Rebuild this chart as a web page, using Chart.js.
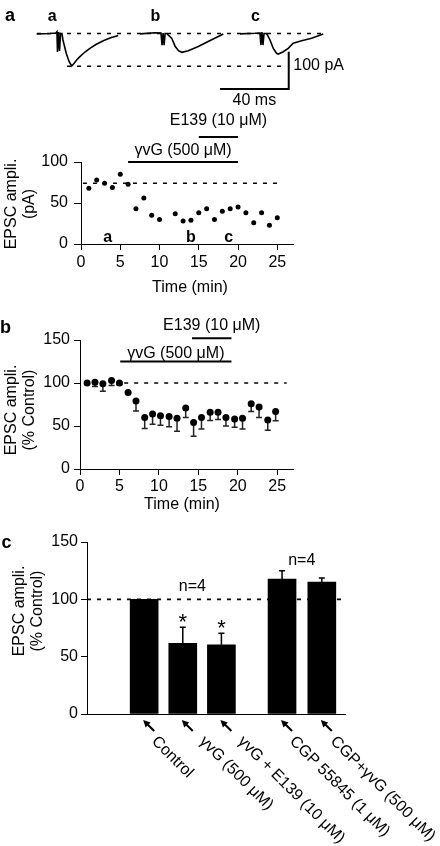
<!DOCTYPE html>
<html>
<head>
<meta charset="utf-8">
<script src="https://cdn.jsdelivr.net/npm/chart.js@4.4.1/dist/chart.umd.min.js"></script>
<style>
  body { margin: 0; background: #fff; }
  #wrap { position: relative; width: 440px; height: 846px; overflow: hidden; }
  canvas { position: absolute; left: 0; }
</style>
</head>
<body>
<div id="wrap">
  <canvas id="tr" width="440" height="110" style="top:0px"></canvas>
  <canvas id="ca" width="440" height="210" style="top:100px"></canvas>
  <canvas id="cb" width="440" height="215" style="top:305px"></canvas>
  <canvas id="cc" width="440" height="326" style="top:520px"></canvas>
</div>
<script>
// tick values
var timeTicks = [0, 5, 10, 15, 20, 25];
var ampTicks = [0, 50, 100];
var pctTicks = [0, 50, 100, 150];

// example sweeps (ms, pA) taken at a, b, c
var traceNames = ['a', 'b', 'c'];
var traceTa = [0, 7.7, 11.2, 11.8, 12.1, 12.7, 13.3, 13.9, 14.7, 15.3, 17.2, 18.9, 20.4, 21.7, 23.5, 25.2, 28.1, 31, 34.5, 38.8, 42.7, 47.5];
var traceIa = [-1, 0, 1.3, 4.8, -49.6, 4, -47, 0, 0, -17.4, -53, -75.6, -87.1, -80.4, -69.7, -62.2, -49.6, -39.7, -29.5, -19.3, -12, -5.4];
var traceTb = [0, 8.7, 12.2, 12.8, 13.4, 14.0, 14.6, 15.5, 18.5, 20.5, 22.4, 24.3, 28.1, 33.9, 41.7, 48.5];
var traceIb = [-1, 2, 1.3, -31, 1, -31, 0, 0, -13, -35, -46, -50.4, -46, -35, -17, -1.3];
var traceTc = [0, 8.7, 11.6, 12.2, 12.8, 13.4, 14.0, 15.5, 17.5, 19.4, 21.3, 22.3, 25.2, 28.1, 31, 35.9, 41.7, 48.5];
var traceIc = [-1, 0.5, 1.3, -31, 4, -31, 0, 0, -17.4, -40, -53, -55, -49, -40, -26.3, -19.3, -13, -1.3];

// a: one cell, EPSC amplitude (pA)
var timeA = [1, 2, 3, 4, 5, 6, 7, 8, 9, 10, 12, 13, 14, 15, 16, 17, 18, 19, 20, 21, 22, 23, 24, 25];
var ampA = [68, 78, 74, 69, 85, 73, 43, 56, 35, 30, 37, 28, 29, 38, 43, 30, 40, 43, 45, 38, 26, 38, 23, 32];
var baseA = 74;
var sampleTimes = [3.4, 14, 18.8];
var gvgA = [6, 20];
var e139A = [15, 20];

// b: pooled, % of control (mean, SEM)
var timeB = [0.9, 1.9, 2.9, 4.0, 5.0, 6.1, 7.1, 8.2, 9.2, 10.2, 11.3, 12.3, 13.4, 14.4, 15.4, 16.5, 17.5, 18.5, 19.6, 20.6, 21.7, 22.7, 23.8, 24.8];
var meanB = [100, 101, 99, 103, 100, 89, 79, 60, 64, 62, 61, 59, 71, 54, 60, 66, 66, 60, 58, 59, 76, 72, 57, 67];
var semB = [1, 5, 8.5, 6, 2, 1.5, 11.5, 13, 12, 11, 12, 15, 11, 16, 13.5, 9.5, 8.5, 10, 9.5, 12.5, 9, 12, 12, 11];
var gvgB = [5.1, 19.2];
var e139B = [14.2, 19.2];

// c: summary
var conditions = ['Control', 'γvG (500 μM)', 'γvG + E139 (10 μM)', 'CGP 55845 (1 μM)', 'CGP+γvG (500 μM)'];
var condPos = [1, 2, 3, 4.57, 5.6];
var meanC = [100, 61.6, 60.4, 117.7, 115];
var semC = [0, 14, 10, 7.3, 3.6];
var starC = ['', '*', '*', '', ''];

var FONT = "'Liberation Sans', Arial, Helvetica, sans-serif";
Chart.defaults.font.family = FONT;
Chart.defaults.font.size = 16;
Chart.defaults.color = '#000';
Chart.defaults.animation = false;
Chart.defaults.responsive = false;
Chart.defaults.events = [];
Chart.defaults.plugins.legend.display = false;
Chart.defaults.plugins.tooltip.enabled = false;

function pts(xs, ys, off) {
    return xs.map(function (v, i) { return {x: v + (off || 0), y: ys[i]}; });
}

function txt(ctx, s, x, y, font, align, base) {
    ctx.font = font;
    ctx.textAlign = align || 'center';
    ctx.textBaseline = base || 'alphabetic';
    ctx.fillStyle = '#000';
    ctx.fillText(s, x, y);
}

function yTitle(ctx, lines, x, yc) {
    ctx.save();
    ctx.translate(x, yc);
    ctx.rotate(-Math.PI / 2);
    lines.forEach(function (l, i) { txt(ctx, l, 0, i * 18, '16px ' + FONT, 'center', 'middle'); });
    ctx.restore();
}

function drugBar(ctx, xs, ys, span, level, label, gap) {
    var x0 = xs.getPixelForValue(span[0]), x1 = xs.getPixelForValue(span[1]), yy = ys.getPixelForValue(level);
    ctx.strokeStyle = '#000';
    ctx.lineWidth = 2;
    ctx.setLineDash([]);
    ctx.beginPath(); ctx.moveTo(x0, yy); ctx.lineTo(x1, yy); ctx.stroke();
    txt(ctx, label, (x0 + x1) / 2, yy - gap, '16px ' + FONT);
}

function axisX(ticks, min, max, height, tickLen, pad) {
    return {
        type: 'linear', min: min, max: max,
        afterFit: function (s) { s.height = height; },
        afterBuildTicks: function (s) { s.ticks = ticks.map(function (v) { return {value: v}; }); },
        grid: {drawOnChartArea: false, tickLength: tickLen, color: '#000', lineWidth: 1},
        border: {color: '#000', width: 1},
        ticks: {padding: pad, maxRotation: 0, color: '#000'}
    };
}

function axisY(ticks, min, max, width, tickLen, pad) {
    return {
        min: min, max: max,
        afterFit: function (s) { s.width = width; },
        afterBuildTicks: function (s) { s.ticks = ticks.map(function (v) { return {value: v}; }); },
        grid: {drawOnChartArea: false, tickLength: tickLen, color: '#000', lineWidth: 1},
        border: {color: '#000', width: 1},
        ticks: {padding: pad, color: '#000'}
    };
}

function dashed(x0, x1, level) {
    return {
        type: 'line', data: [{x: x0, y: level}, {x: x1, y: level}], showLine: true,
        borderColor: '#000', borderWidth: 1.6, borderDash: [4, 6], pointRadius: 0, order: 5
    };
}

// ---------- example sweeps ----------
var traceOffsets = [0, 60.2, 118.4];
var traceSets = [[traceTa, traceIa], [traceTb, traceIb], [traceTc, traceIc]].map(function (tr, k) {
    return {data: pts(tr[0], tr[1], traceOffsets[k]), borderColor: '#000', borderWidth: 1.6, pointRadius: 0, tension: 0};
});
traceSets.push(dashed(0.2, 169, 0));
traceSets.push(dashed(17.7, 143.4, -88));
traceSets.push({data: [{x: 106.8, y: -148.8}, {x: 146.8, y: -148.8}, {x: 146.8, y: -48.8}], borderColor: '#000', borderWidth: 2, pointRadius: 0});

new Chart(document.getElementById('tr'), {
    type: 'line',
    data: {datasets: traceSets},
    options: {
        layout: {padding: 0},
        scales: {
            x: {type: 'linear', display: false, min: -21.37, max: 234.9},
            y: {display: false, min: -205.1, max: 89.8}
        }
    },
    plugins: [{
        id: 'sweepText',
        afterDraw: function (chart) {
            var ctx = chart.ctx, xs = chart.scales.x, ys = chart.scales.y;
            txt(ctx, 'a', 5, 21, 'bold 18px ' + FONT, 'left');
            traceNames.forEach(function (n, k) {
                txt(ctx, n, xs.getPixelForValue(traceOffsets[k] + 9), 17, 'bold 16px ' + FONT, 'center', 'middle');
            });
            txt(ctx, '100 pA', xs.getPixelForValue(146.8) + 4.5, ys.getPixelForValue(-86), '16px ' + FONT, 'left', 'middle');
            txt(ctx, '40 ms', xs.getPixelForValue(126.8), ys.getPixelForValue(-181), '16px ' + FONT, 'center', 'middle');
        }
    }]
});

// ---------- a ----------
new Chart(document.getElementById('ca'), {
    type: 'scatter',
    data: {
        datasets: [
            {data: pts(timeA, ampA), pointRadius: 2.5, backgroundColor: '#000', borderWidth: 0, order: 1},
            dashed(0.25, 25.6, baseA)
        ]
    },
    options: {
        layout: {padding: {top: 62, right: 147, bottom: 36, left: 0}},
        scales: {
            x: axisX(timeTicks, 0, 27, 30, 6, 3),
            y: axisY(ampTicks, 0, 100, 81, 7, 6)
        }
    },
    plugins: [{
        id: 'decoA',
        afterDraw: function (chart) {
            var ctx = chart.ctx, xs = chart.scales.x, ys = chart.scales.y;
            ctx.save();
            drugBar(ctx, xs, ys, gvgA, 100, 'γvG (500 μM)', 7);
            drugBar(ctx, xs, ys, e139A, 130.5, 'E139 (10 μM)', 12);
            traceNames.forEach(function (n, i) {
                txt(ctx, n, xs.getPixelForValue(sampleTimes[i]), ys.getPixelForValue(8), 'bold 16px ' + FONT, 'center', 'middle');
            });
            yTitle(ctx, ['EPSC ampli.', '(pA)'], 12, 104);
            txt(ctx, 'Time (min)', 190, 188, '16px ' + FONT, 'center', 'middle');
            ctx.restore();
        }
    }]
});

// ---------- b ----------
new Chart(document.getElementById('cb'), {
    type: 'scatter',
    data: {
        datasets: [
            {data: pts(timeB, meanB), pointRadius: 3.5, backgroundColor: '#000', borderWidth: 0, order: 1},
            dashed(5.6, 26.2, 100)
        ]
    },
    options: {
        layout: {padding: {top: 35, right: 147, bottom: 21, left: 0}},
        scales: {
            x: axisX(timeTicks, 0, 27, 30, 6, 2),
            y: axisY(pctTicks, 0, 150, 80, 6, 4)
        }
    },
    plugins: [{
        id: 'decoB',
        beforeDatasetsDraw: function (chart) {
            var ctx = chart.ctx, xs = chart.scales.x, ys = chart.scales.y;
            ctx.save();
            ctx.strokeStyle = '#222';
            ctx.lineWidth = 1.5;
            timeB.forEach(function (t, i) {
                var px = xs.getPixelForValue(t), y0 = ys.getPixelForValue(meanB[i]), y1 = ys.getPixelForValue(meanB[i] - semB[i]);
                ctx.beginPath();
                ctx.moveTo(px, y0); ctx.lineTo(px, y1);
                ctx.moveTo(px - 3, y1); ctx.lineTo(px + 3, y1);
                ctx.stroke();
            });
            ctx.restore();
        },
        afterDraw: function (chart) {
            var ctx = chart.ctx, xs = chart.scales.x, ys = chart.scales.y;
            ctx.save();
            drugBar(ctx, xs, ys, gvgB, 125, 'γvG (500 μM)', 4);
            drugBar(ctx, xs, ys, e139B, 152, 'E139 (10 μM)', 8);
            txt(ctx, 'b', 0, 28, 'bold 18px ' + FONT, 'left');
            yTitle(ctx, ['EPSC ampli.', '(% Control)'], 12, 105);
            txt(ctx, 'Time (min)', 182, 200, '16px ' + FONT, 'center', 'middle');
            ctx.restore();
        }
    }]
});

// ---------- c ----------
function arrow(ctx, tipX, tipY, tailX, tailY) {
    var a = Math.atan2(tipY - tailY, tipX - tailX), hl = 7, hw = 3.5;
    var c = Math.cos(a), s = Math.sin(a);
    ctx.lineWidth = 2;
    ctx.beginPath(); ctx.moveTo(tailX, tailY); ctx.lineTo(tipX - hl * 0.6 * c, tipY - hl * 0.6 * s); ctx.stroke();
    ctx.beginPath();
    ctx.moveTo(tipX, tipY);
    ctx.lineTo(tipX - hl * c + hw * s, tipY - hl * s - hw * c);
    ctx.lineTo(tipX - hl * c - hw * s, tipY - hl * s + hw * c);
    ctx.closePath(); ctx.fill();
}

var labelNudge = [0, 9, 9, 0, 1];

new Chart(document.getElementById('cc'), {
    type: 'bar',
    data: {
        datasets: [
            {data: pts(condPos, meanC), backgroundColor: '#000', barThickness: 28, order: 1},
            dashed(-0.48, 6.15, 100)
        ]
    },
    options: {
        layout: {padding: {top: 22, right: 95, bottom: 122, left: 0}},
        scales: {
            x: {
                type: 'linear', min: -0.48, max: 6.2, offset: false,
                afterFit: function (s) { s.height = 10; },
                grid: {display: false, offset: false},
                border: {color: '#000', width: 1},
                ticks: {display: false}
            },
            y: axisY(pctTicks, 0, 150, 87, 6, 3)
        }
    },
    plugins: [{
        id: 'decoC',
        afterDraw: function (chart) {
            var ctx = chart.ctx, xs = chart.scales.x, ys = chart.scales.y;
            var base = ys.getPixelForValue(0);
            ctx.save();
            ctx.strokeStyle = '#000';
            ctx.fillStyle = '#000';
            condPos.forEach(function (p, i) {
                var px = xs.getPixelForValue(p);
                if (semC[i] > 0) {
                    var y0 = ys.getPixelForValue(meanC[i]), y1 = ys.getPixelForValue(meanC[i] + semC[i]);
                    ctx.lineWidth = 1.5;
                    ctx.beginPath();
                    ctx.moveTo(px, y0); ctx.lineTo(px, y1);
                    ctx.moveTo(px - 3, y1); ctx.lineTo(px + 3, y1);
                    ctx.stroke();
                }
                if (starC[i]) {
                    txt(ctx, starC[i], px, ys.getPixelForValue(meanC[i] + semC[i]) + 2, '22px ' + FONT);
                }
                arrow(ctx, px - 1, base + 6, px + 10, base + 17);
                ctx.save();
                ctx.translate(px + 10 + labelNudge[i], base + 25);
                ctx.rotate(Math.PI / 4);
                txt(ctx, conditions[i], 0, 0, '16px ' + FONT, 'left', 'middle');
                ctx.restore();
            });
            txt(ctx, 'n=4', xs.getPixelForValue(2.25), ys.getPixelForValue(111), '16px ' + FONT, 'center', 'middle');
            txt(ctx, 'n=4', xs.getPixelForValue(5.08), ys.getPixelForValue(133.4), '16px ' + FONT, 'center', 'middle');
            txt(ctx, 'c', 1.5, 28, 'bold 18px ' + FONT, 'left');
            yTitle(ctx, ['EPSC ampli.', '(% Control)'], 19.5, 91);
            ctx.restore();
        }
    }]
});
</script>
</body>
</html>
